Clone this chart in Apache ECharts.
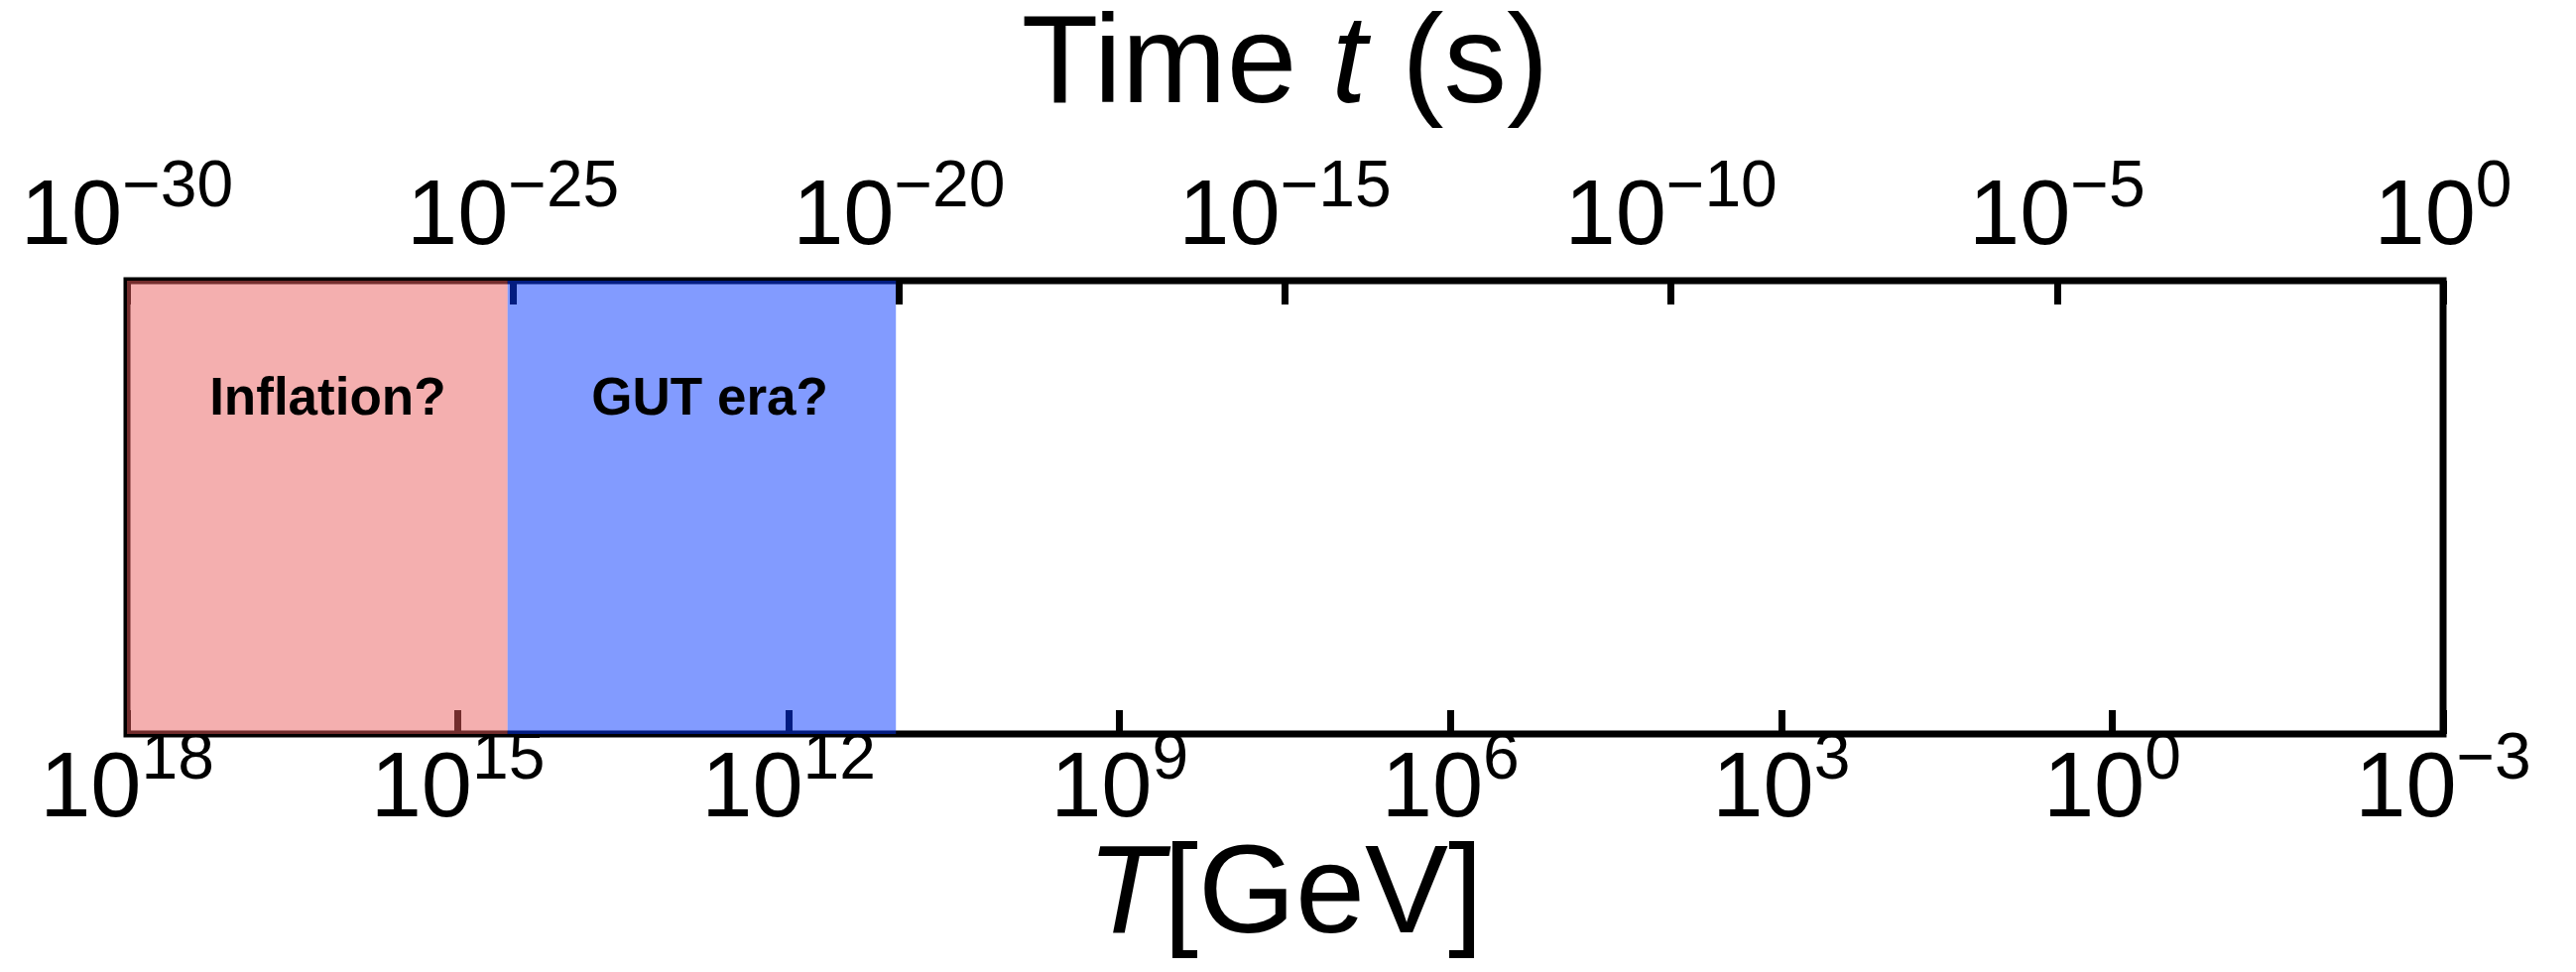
<!DOCTYPE html>
<html><head><meta charset="utf-8">
<script src="https://cdn.jsdelivr.net/npm/echarts@6/dist/echarts.min.js"></script>
<style>html,body{margin:0;padding:0;background:#fff}#c{width:2597px;height:980px}</style>
</head><body><div id="c"></div>
<script>
// time axis (top): log10 of t in seconds
const timeExpMin = -30, timeExpMax = 0, timeTickStep = 5;
// temperature axis (bottom): log10 of T in GeV, decreasing to the right
const tempExpMin = -3, tempExpMax = 18, tempTickStep = 3;
// shaded eras, in log10 t
const eraNames = ['Inflation?', 'GUT era?'];
const eraStartExp = [-30.08, -25.07];
const eraEndExp = [-25.07, -20.04];
const eraBottom = [-0.007, -0.013];
const eraTop = [1.009, 1.002];
const eraLabelExp = [-27.4, -22.45];
const eraLabelLevel = [0.737, 0.737];
const eraColors = ['rgba(233,92,92,0.49)', 'rgba(5,55,255,0.5)'];

const FONT = '"Liberation Sans", Arial, Helvetica, sans-serif';
function powLabel(v) {
  const e = Math.round(v);
  const s = e < 0 ? '\u2212' + (-e) : String(e);
  return '{b|10}{s|' + s + '}';
}
const labelRich = {
  b: {fontSize: 92, fontFamily: FONT, color: '#000', lineHeight: 110, verticalAlign: 'bottom'},
  s: {fontSize: 66, fontFamily: FONT, color: '#000', lineHeight: 66, verticalAlign: 'top'}
};
const chart = echarts.init(document.getElementById('c'), null, {renderer: 'canvas'});
const LW = 7;
chart.setOption({
  animation: false,
  backgroundColor: '#fff',
  grid: {left: 128, top: 283, width: 2335, height: 457, show: true, borderColor: '#000', borderWidth: LW, backgroundColor: 'transparent', containLabel: false},
  xAxis: [
    {
      type: 'value', position: 'bottom', min: tempExpMin, max: tempExpMax, interval: tempTickStep, inverse: true,
      axisLine: {show: false}, splitLine: {show: false},
      axisTick: {show: true, inside: true, length: 24, lineStyle: {color: '#000', width: LW}},
      axisLabel: {show: true, formatter: powLabel, rich: labelRich, margin: -6, showMinLabel: true, showMaxLabel: true, hideOverlap: false},
      name: '{i|T}{n|[GeV]}', nameLocation: 'middle', nameGap: 102, nameMoveOverlap: false,
      nameTextStyle: {rich: {i: {fontSize: 126, fontFamily: FONT, fontStyle: 'italic', color: '#000'}, n: {fontSize: 126, fontFamily: FONT, color: '#000'}}}
    },
    {
      type: 'value', position: 'top', min: timeExpMin, max: timeExpMax, interval: timeTickStep,
      axisLine: {show: false}, splitLine: {show: false},
      axisTick: {show: true, inside: true, length: 24, lineStyle: {color: '#000', width: LW}},
      axisLabel: {show: true, formatter: powLabel, rich: labelRich, margin: 16, showMinLabel: true, showMaxLabel: true, hideOverlap: false},
      name: '{n|Time }{i|t}{n| (s)}', nameLocation: 'middle', nameGap: 152, nameMoveOverlap: false,
      nameTextStyle: {rich: {i: {fontSize: 127, fontFamily: FONT, fontStyle: 'italic', color: '#000'}, n: {fontSize: 127, fontFamily: FONT, color: '#000'}}}
    }
  ],
  yAxis: [{type: 'value', min: 0, max: 1, show: false}],
  series: [
    {
      type: 'scatter', name: 'eras', xAxisIndex: 1, yAxisIndex: 0, data: [], silent: true, clip: false, z: 2,
      markArea: {
        silent: true,
        data: eraNames.map((n, i) => [
          {xAxis: eraStartExp[i], yAxis: eraBottom[i], itemStyle: {color: eraColors[i]}},
          {xAxis: eraEndExp[i], yAxis: eraTop[i]}
        ]),
        label: {show: false}
      }
    },
    {
      type: 'scatter', name: 'labels', xAxisIndex: 1, yAxisIndex: 0, symbolSize: 0, silent: true, clip: false, z: 10, zlevel: 1,
      itemStyle: {opacity: 1, color: '#000'},
      data: eraNames.map((n, i) => ({value: [eraLabelExp[i], eraLabelLevel[i]], name: n})),
      label: {show: true, position: 'inside', formatter: p => p.name, fontSize: 53, fontWeight: 'bold', fontFamily: FONT, color: '#000', opacity: 1, textBorderWidth: 0}
    }
  ]
});
</script></body></html>
